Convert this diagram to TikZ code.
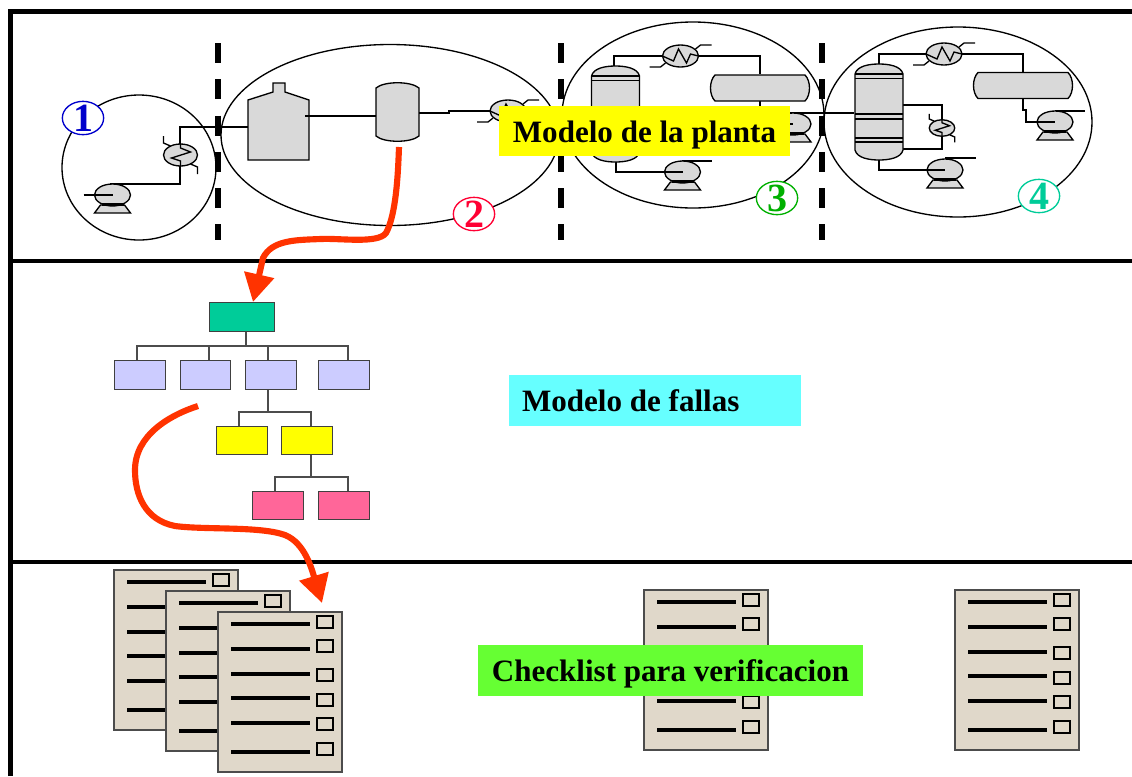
\documentclass[tikz,border=0pt]{standalone}
\usepackage{fontspec}
\setmainfont{Liberation Serif}
\usetikzlibrary{shapes,arrows.meta}

\definecolor{fallared}{RGB}{255,51,0}
\definecolor{paper}{RGB}{224,216,202}
\definecolor{metal}{RGB}{217,217,217}
\definecolor{numone}{RGB}{0,0,204}
\definecolor{numtwo}{RGB}{255,0,51}
\definecolor{numthree}{RGB}{0,176,0}
\definecolor{numfour}{RGB}{0,204,153}
\definecolor{topfill}{RGB}{0,204,153}
\definecolor{lilac}{RGB}{204,204,255}
\definecolor{pureyellow}{RGB}{255,255,0}
\definecolor{rose}{RGB}{255,102,153}
\definecolor{skyfill}{RGB}{102,255,255}
\definecolor{limefill}{RGB}{102,255,51}

\tikzset{
    bigtext/.style={font=\fontsize{23.3}{28}\selectfont\bfseries,inner sep=0pt,minimum height=38pt,text height=20pt,text depth=3.1pt},
    badge/.style={draw=#1,ellipse,fill=white,line width=1pt,minimum width=31pt,minimum height=25pt,inner sep=0pt},
    numtext/.style={font=\fontsize{30}{30}\selectfont\bfseries,text=#1},
    treebox/.style={draw=black!75,line width=.9pt,minimum width=38pt,minimum height=21.5pt,inner sep=0pt},
    treeline/.style={draw=black!70,line width=.8pt},
    pipe/.style={line width=1pt},
    equip/.style={draw=black,fill=metal,line width=1pt},
    redline/.style={draw=fallared,line width=4.6pt},
    pics/pump/.style={code={
        \draw[equip] (-12,10) -- (12,10) -- (18,18) -- (-18,18) -- cycle;
        \draw[equip] (0,0) ellipse [x radius=18,y radius=11];
        \draw[line width=2.4pt] (-11,9.5) -- (11,9.5);
        \draw[pipe] (-29,0) -- (0,0);
    }},
    pics/hotx/.style={code={
        \draw[equip] (0,0) ellipse [x radius=18,y radius=11];
        \draw[pipe] (-18,0) -- (-7,5) -- (-2,-7) -- (6,7) -- (10,-2) -- (18,0);
        \draw[pipe] (15,-7) -- (20,-11) -- (31,-11);
        \draw[pipe] (-15,7) -- (-20,11) -- (-31,11);
    }},
    pics/hoty/.style={code={
        \draw[equip] (0,0) ellipse [x radius=17,y radius=11];
        \draw[pipe] (0,-11) -- (0,-7) -- (10,-3) -- (-9,3) -- (0,6) -- (0,11);
        \draw[pipe] (-10,-9) -- (-17,-12) -- (-17,-19);
        \draw[pipe] (10,9) -- (17,12) -- (17,19);
    }},
    pics/tower/.style={code={
        \draw[equip] (-24,10) .. controls (-22,2) and (-10,0) .. (0,0)
            .. controls (10,0) and (22,2) .. (24,10) -- (24,86)
            .. controls (22,94) and (10,96) .. (0,96)
            .. controls (-10,96) and (-22,94) .. (-24,86) -- cycle;
        \foreach \y in {10,14.5,50,55,74,78}
            \draw[pipe] (-24,\y) -- (24,\y);
    }},
    pics/drum/.style={code={
        \draw[equip] (-45,-13) -- (45,-13) .. controls (51,-7) and (51,7) .. (45,13)
            -- (-45,13) .. controls (-51,7) and (-51,-7) .. cycle;
    }},
    pics/sheet/.style={code={
        \draw[fill=paper,draw=black!70,line width=.9pt] (0,0) rectangle (124,160);
        \foreach \y in {12,37,62,86,111,140}
            \draw[line width=2.8pt] (13,\y) -- (92,\y);
        \foreach \y in {10,34,63,88,112,137}
            \draw[line width=1.5pt] (99,\y-6) rectangle (115,\y+6);
    }}
}

\begin{document}
\begin{tikzpicture}[x=0.75pt,y=-0.75pt]
\useasboundingbox (0,0) rectangle (1132,776);

% Section frame
\draw[line width=3.6pt] (10.5,776) -- (10.5,11.5) -- (1132,11.5);
\draw[line width=3.6pt] (10.5,261) -- (1132,261);
\draw[line width=3.6pt] (10.5,562) -- (1132,562);

% Section dividers
\foreach \x in {218,561,822}
    \draw[line width=5pt,dash pattern=on 15pt off 12.2pt] (\x,43) -- (\x,240);

% Plant sections
\draw[line width=1pt] (139,167.5) ellipse [x radius=77,y radius=72.5];
\draw[line width=1pt] (390,135) ellipse [x radius=169,y radius=90.5];
\draw[line width=1pt] (693,115) ellipse [x radius=131,y radius=93];
\draw[line width=1pt] (958,122) ellipse [x radius=134,y radius=95];

% Section 1
\draw[pipe] (110,184) -- (180,184) -- (180,127) -- (248,127);
\pic at (112.5,195) {pump};
\pic at (180.5,155) {hoty};

% Section 2
\draw[equip] (248,160) -- (248,100) -- (273,92) -- (273,83) -- (285,83) -- (285,92)
    -- (309,100) -- (309,160) -- cycle;
\draw[equip] (376,88) .. controls (384,81) and (411,81) .. (419,88) -- (419,136)
    .. controls (411,143) and (384,143) .. (376,136) -- cycle;
\draw[pipe] (305,116) -- (376,116);
\draw[pipe] (419,113) -- (449,113) -- (449,111) -- (510,111);
\pic at (508,111) {hotx};

% Section 3
\draw[pipe] (614,66) -- (614,56) -- (700,56);
\draw[pipe] (680,56) -- (760,56) -- (760,74);
\draw[pipe] (616,161) -- (616,172) -- (682,172);
\draw[pipe] (682,161) -- (712,161);
\draw[pipe] (640,107) -- (680,107);
\draw[pipe] (760,101) -- (760,113) -- (854,113);
\pic at (615.5,66) {tower};
\pic at (760,88) {drum};
\pic at (680.5,56) {hotx};
\pic at (793,124) {pump};
\pic at (682.5,172) {pump};

% Section 4
\draw[pipe] (879,64) -- (879,54) -- (1023,54) -- (1023,72);
\draw[pipe] (903,105) -- (942,105) -- (942,149) -- (903,149);
\draw[pipe] (879,160) -- (879,170) -- (945,170);
\draw[pipe] (945,158) -- (976,158);
\draw[pipe] (1023,99) -- (1023,110) -- (1026,110) -- (1026,122) -- (1055,122);
\draw[pipe] (1055,111) -- (1085,111);
\pic at (879,64) {tower};
\pic at (1023,85.5) {drum};
\pic at (944,54) {hotx};
\pic[scale=.75] at (942,128) {hoty};
\pic at (945,170) {pump};
\pic at (1055,122) {pump};

% Section numbers
\node [badge=numone,label={[numtext=numone]center:1}] (num1) at (83,118){};
\node [badge=numtwo,label={[numtext=numtwo]center:2}] (num2) at (474,214){};
\node [badge=numthree,label={[numtext=numthree]center:3}] (num3) at (777,198){};
\node [badge=numfour,label={[numtext=numfour]center:4}] (num4) at (1039,196){};

% Fault tree
\node [treebox,fill=topfill,minimum width=49pt] (top) at (242,317){};
\node [treebox,fill=lilac] (fa) at (140,375){};
\node [treebox,fill=lilac] (fb) at (205.5,375){};
\node [treebox,fill=lilac] (fc) at (271,375){};
\node [treebox,fill=lilac] (fd) at (344,375){};
\node [treebox,fill=pureyellow] (ga) at (242,440.5){};
\node [treebox,fill=pureyellow] (gb) at (307,440.5){};
\node [treebox,fill=rose] (ha) at (278,505.5){};
\node [treebox,fill=rose] (hb) at (344,505.5){};

\coordinate (busf) at (246,346);
\coordinate (busg) at (268,412);
\coordinate (bush) at (311,477);

\draw[treeline] (top.south -| busf) -- (busf);
\foreach \name/\off in {fa/-3,fb/3.5,fc/-3,fd/4}
    \draw[treeline] (busf) -| ([xshift=\off*0.75pt]\name.north);
\draw[treeline] (fc.south -| busg) -- (busg);
\foreach \name/\off in {ga/-3,gb/4}
    \draw[treeline] (busg) -| ([xshift=\off*0.75pt]\name.north);
\draw[treeline] (gb.south -| bush) -- (bush);
\foreach \name/\off in {ha/-3,hb/4}
    \draw[treeline] (bush) -| ([xshift=\off*0.75pt]\name.north);

% Check lists
\pic at (114,570) {sheet};
\pic at (166,591) {sheet};
\pic at (218,612) {sheet};
\pic at (644,590) {sheet};
\pic at (955,590) {sheet};

% Red arrows
\coordinate (reda) at (399,147);
\coordinate (tipa) at (253,302);
\coordinate (redb) at (198,406);
\coordinate (tipb) at (322,603);

\draw[redline,-{Triangle[length=21pt,width=22pt]}] (reda)
    .. controls (398,175) and (396,215) .. (386,233)
    .. controls (378,244) and (340,238) .. (321,239)
    .. controls (295,240) and (272,240) .. (263,258) -- (tipa);
\draw[redline,-{Triangle[length=21pt,width=22pt]}] (redb)
    .. controls (170,415) and (135,435) .. (135,470)
    .. controls (135,495) and (145,520) .. (175,526)
    .. controls (205,530) and (260,526) .. (285,535)
    .. controls (305,543) and (312,570) .. (tipb);

% Section titles
\node [bigtext,fill=pureyellow,minimum width=218pt] (planta) at (644.5,131) {Modelo de la planta};
\node [bigtext,fill=skyfill,inner xsep=9.75pt] (fallas) at (655,400.5) {\makebox[199.5pt][l]{Modelo de fallas}};
\node [bigtext,fill=limefill,minimum width=289pt] (check) at (670.5,670.5) {Checklist para verificacion};

\end{tikzpicture}
\end{document}
